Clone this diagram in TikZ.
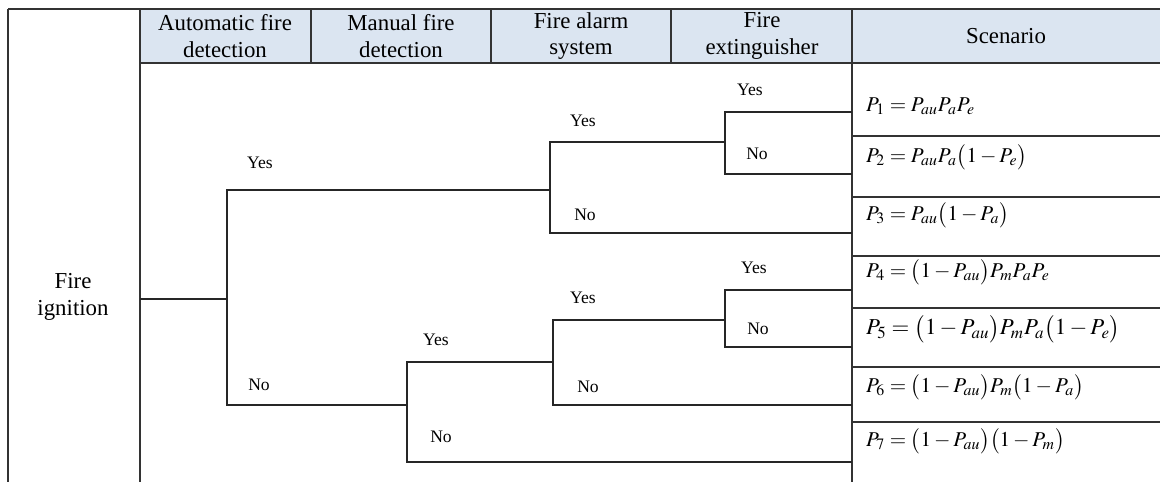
\documentclass[tikz,border=0pt]{standalone}
\usepackage{mathptmx}
\usepackage{fontspec}
\setmainfont{Liberation Serif}
\definecolor{headblue}{HTML}{DBE5F1}

\begin{document}
\begin{tikzpicture}[x=0.02cm, y=-0.02cm,
        head/.style = {align=center, font=\fontsize{13}{15}\selectfont},
        lab/.style = {font=\fontsize{10}{12}\selectfont},
        scen/.style = {anchor=west, font=\fontsize{12}{14}\selectfont},
        grid/.style = {draw=black!80, line width=0.7pt},
        branch/.style = {draw=black!85, line width=1.2pt}]
        \useasboundingbox (0,0) rectangle (1160,482);

        % table
        \fill[headblue] (140,9) rectangle (1160,63);
        \draw[grid] (8,9) -- (1160,9);
        \draw[grid] (140,63) -- (1160,63);
        \draw[grid] (8,9) -- (8,482);
        \draw[grid] (140,9) -- (140,482);
        \foreach \x in {311,491,671} \draw[grid] (\x,9) -- (\x,63);
        \draw[grid] (852,9) -- (852,482);
        \foreach \y in {136,197,256,308,367,422} \draw[grid] (852,\y) -- (1160,\y);

        \node[head] (fire) at (73,297) {Fire\\ignition};
        \node[head] (hau) at (225,36) {Automatic fire\\detection};
        \node[head] (hman) at (401,36) {Manual fire\\detection};
        \node[head] (hal) at (581,36) {Fire alarm\\system};
        \node[head] (hex) at (762,36) {Fire\\extinguisher};
        \node[head] (hsc) at (1006,36) {Scenario};

        % tree
        \coordinate (start) at (140,299);
        \coordinate (au) at (227,299);
        \coordinate (al1) at (550,190);
        \coordinate (ex1) at (725,142);
        \coordinate (man) at (407,405);
        \coordinate (al2) at (553,362);
        \coordinate (ex2) at (725,320);
        \coordinate (s1) at (852,112);
        \coordinate (s2) at (852,174);
        \coordinate (s3) at (852,233);
        \coordinate (s4) at (852,290);
        \coordinate (s5) at (852,347);
        \coordinate (s6) at (852,405);
        \coordinate (s7) at (852,462);

        \draw[branch] (start) -- (au);
        \draw[branch] (al1) -| (au) |- (man);
        \draw[branch] (ex1) -| (al1) |- (s3);
        \draw[branch] (s1) -| (ex1) |- (s2);
        \draw[branch] (al2) -| (man) |- (s7);
        \draw[branch] (ex2) -| (al2) |- (s6);
        \draw[branch] (s4) -| (ex2) |- (s5);

        \node[lab] (auyes) at (260,163) {Yes};
        \node[lab] (auno) at (259,385) {No};
        \node[lab] (al1yes) at (583,121) {Yes};
        \node[lab] (al1no) at (585,215) {No};
        \node[lab] (ex1yes) at (750,90) {Yes};
        \node[lab] (ex1no) at (757,154) {No};
        \node[lab] (manyes) at (436,340) {Yes};
        \node[lab] (manno) at (441,437) {No};
        \node[lab] (al2yes) at (583,298) {Yes};
        \node[lab] (al2no) at (588,387) {No};
        \node[lab] (ex2yes) at (754,268) {Yes};
        \node[lab] (ex2no) at (758,329) {No};

        % scenarios
        \node[scen] (p1) at (860,106) {$P_1 = P_{au}P_aP_e$};
        \node[scen] (p2) at (860,157) {$P_2 = P_{au}P_a\bigl(1-P_e\bigr)$};
        \node[scen] (p3) at (860,215) {$P_3 = P_{au}\bigl(1-P_a\bigr)$};
        \node[scen] (p4) at (860,272) {$P_4 = \bigl(1-P_{au}\bigr)P_mP_aP_e$};
        \node[scen, font=\fontsize{13}{15}\selectfont] (p5) at (860,329) {$P_5 = \bigl(1-P_{au}\bigr)P_mP_a\bigl(1-P_e\bigr)$};
        \node[scen] (p6) at (860,387) {$P_6 = \bigl(1-P_{au}\bigr)P_m\bigl(1-P_a\bigr)$};
        \node[scen] (p7) at (860,441) {$P_7 = \bigl(1-P_{au}\bigr)\bigl(1-P_m\bigr)$};
\end{tikzpicture}
\end{document}
